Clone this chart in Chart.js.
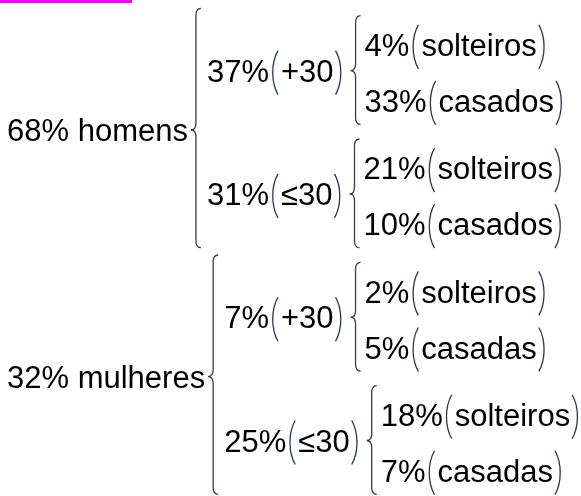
<!DOCTYPE html>
<html>
<head>
<meta charset="utf-8">
<script src="https://cdn.jsdelivr.net/npm/chart.js@4.4.0/dist/chart.umd.min.js"></script>
<style>
  body { margin: 0; background: #fff; }
  #wrap { position: relative; width: 581px; height: 496px; }
  #marca { position: absolute; left: 0; top: 0; width: 132px; height: 3px; background: #ff00ff; }
</style>
</head>
<body>
<div id="wrap">
  <canvas id="arvore" width="581" height="496"></canvas>
  <div id="marca"></div>
</div>
<script>
// dados
const groupLabels = ['homens', 'mulheres'];
const groupPct = [68, 32];
const ageLabels = ['+30', '≤30', '+30', '≤30'];
const agePct = [37, 31, 7, 25];
const statusLabels = ['solteiros', 'casados', 'solteiros', 'casados', 'solteiros', 'casadas', 'solteiros', 'casadas'];
const statusPct = [4, 33, 21, 10, 2, 5, 18, 7];

const FONT_SIZE = 31;
const FONT = FONT_SIZE + 'px "Liberation Sans", Arial, sans-serif';

// linha de cada folha, com um pequeno espaço entre pares
function leafRow(i) {
    return i + 0.2 * Math.floor(i / 2);
}
function ageRow(j) {
    return (leafRow(2 * j) + leafRow(2 * j + 1)) / 2 - 0.04;
}
function groupRow(g) {
    return (ageRow(2 * g) + ageRow(2 * g + 1)) / 2 - 0.04;
}

// chave "{" com a ponta para a esquerda
function drawBrace(ctx, x, top, mid, bottom) {
    const w = 5, r = 7;
    ctx.save();
    ctx.strokeStyle = '#4a3442';
    ctx.lineWidth = 1.3;
    ctx.beginPath();
    ctx.moveTo(x + w, top);
    ctx.quadraticCurveTo(x, top, x, top + r);
    ctx.lineTo(x, mid - r);
    ctx.quadraticCurveTo(x, mid, x - w, mid);
    ctx.quadraticCurveTo(x, mid, x, mid + r);
    ctx.lineTo(x, bottom - r);
    ctx.quadraticCurveTo(x, bottom, x + w, bottom);
    ctx.stroke();
    ctx.restore();
}

// parêntese alto e fino, desenhado como curva
function drawParen(ctx, open, x, y) {
    const w = 7, h = 44;
    const top = y + 2 - h / 2, bottom = y + 2 + h / 2;
    const edge = open ? x + w : x;
    const bulge = open ? x : x + w;
    ctx.save();
    ctx.strokeStyle = '#2a3550';
    ctx.lineWidth = 1.3;
    ctx.beginPath();
    ctx.moveTo(edge, top);
    ctx.bezierCurveTo(bulge, top + h * 0.28, bulge, bottom - h * 0.28, edge, bottom);
    ctx.stroke();
    ctx.restore();
    return x + w;
}

// escreve "37%(+30)" e devolve o x final
function drawLabel(ctx, x, y, pct, name, withParen) {
    const base = y + 0.36 * FONT_SIZE;
    if (!withParen) {
        const t = pct + '% ' + name;
        ctx.fillText(t, x, base);
        return x + ctx.measureText(t).width;
    }
    let cx = x;
    const p = pct + '%';
    ctx.fillText(p, cx, base);
    cx += ctx.measureText(p).width + 2;
    cx = drawParen(ctx, true, cx, y) + 3;
    ctx.fillText(name, cx, base);
    cx += ctx.measureText(name).width + 2;
    cx = drawParen(ctx, false, cx, y);
    return cx;
}

const treePlugin = {
    id: 'treeLabels',
    afterDatasetsDraw(chart) {
        const ctx = chart.ctx;
        const yScale = chart.scales.y;
        const m0 = chart.getDatasetMeta(0);
        const m1 = chart.getDatasetMeta(1);
        const m2 = chart.getDatasetMeta(2);
        ctx.save();
        ctx.font = FONT;
        ctx.fillStyle = '#000';
        ctx.textBaseline = 'alphabetic';

        groupLabels.forEach((g, gi) => {
            const el0 = m0.data[gi];
            const e0 = drawLabel(ctx, el0.x, el0.y, groupPct[gi], g, false);
            const bx0 = e0 + 8;
            const firstLeaf = gi * 4, lastLeaf = gi * 4 + 3;
            drawBrace(ctx, bx0,
                yScale.getPixelForValue(leafRow(firstLeaf) - 0.65),
                el0.y,
                yScale.getPixelForValue(leafRow(lastLeaf) + 0.42));

            [gi * 2, gi * 2 + 1].forEach(c => {
                const el1 = m1.data[c];
                const e1 = drawLabel(ctx, bx0 + 11, el1.y, agePct[c], ageLabels[c], true);
                const bx1 = e1 + 13;
                drawBrace(ctx, bx1,
                    yScale.getPixelForValue(leafRow(c * 2) - 0.52),
                    el1.y,
                    yScale.getPixelForValue(leafRow(c * 2 + 1) + 0.42));
                [c * 2, c * 2 + 1].forEach(l => {
                    const el2 = m2.data[l];
                    drawLabel(ctx, bx1 + 9, el2.y, statusPct[l], statusLabels[l], true);
                });
            });
        });
        ctx.restore();
    }
};

new Chart(document.getElementById('arvore'), {
    type: 'scatter',
    data: {
        datasets: [
            { data: groupPct.map((v, i) => ({ x: 0, y: groupRow(i), v: v })) },
            { data: agePct.map((v, i) => ({ x: 1, y: ageRow(i), v: v })) },
            { data: statusPct.map((v, i) => ({ x: 2, y: leafRow(i), v: v })) }
        ]
    },
    options: {
        responsive: false,
        animation: false,
        events: [],
        layout: { padding: { left: 7, right: 0, top: 0, bottom: 0 } },
        elements: { point: { radius: 0, hoverRadius: 0 } },
        plugins: { legend: { display: false }, tooltip: { enabled: false } },
        scales: {
            x: { type: 'linear', display: false, min: 0, max: 2 },
            y: { type: 'linear', display: false, reverse: true, min: -0.8, max: 8.05 }
        }
    },
    plugins: [treePlugin]
});
</script>
</body>
</html>
